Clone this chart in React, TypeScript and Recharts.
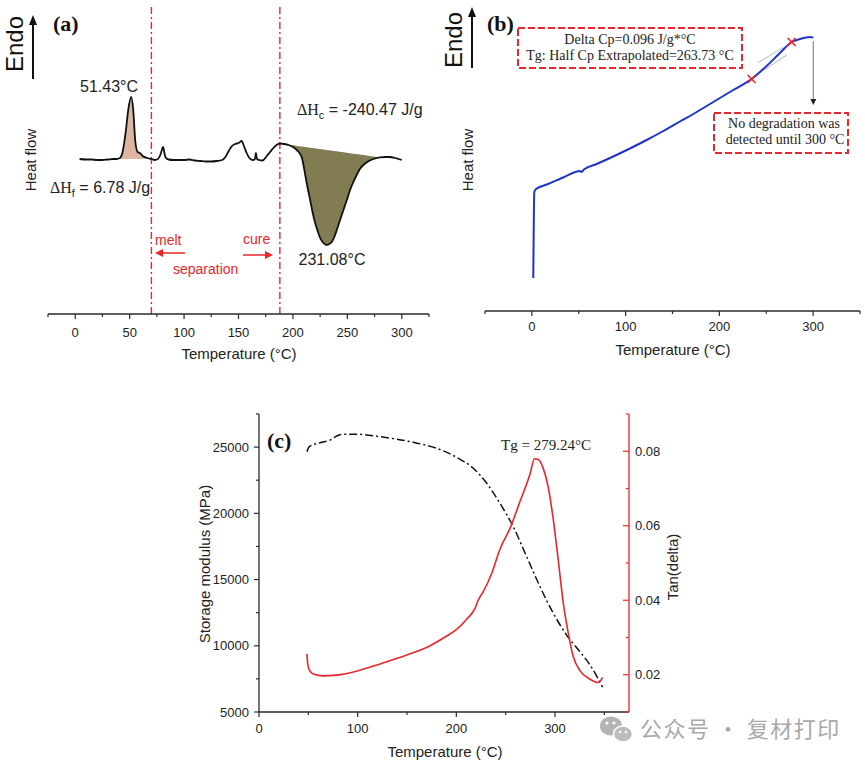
import React from 'react';
import {
  ComposedChart,
  LineChart,
  Line,
  Area,
  XAxis,
  YAxis,
  ReferenceLine,
  ReferenceDot,
} from 'recharts';

const SANS = '"Liberation Sans", Arial, sans-serif';
const SERIF = '"Liberation Serif", "Times New Roman", serif';
const RED = '#e8262b';
const FRAME = '#2a2a2a';

// (a) DSC heating scan: temperature (°C) and heat flow (arb. units, endo up)
const dscTemp = [
  4, 10, 15, 20, 25, 30, 35, 38, 41, 43.5, 46.6, 48.7, 51.43, 53.3, 55.1, 57.3, 59.5, 62, 66, 70,
  73, 76, 78.5, 80.7, 82.8, 85.8, 90, 95, 100, 105, 110, 115, 120, 125, 130, 135, 138, 141, 144, 147,
  150, 153, 155, 157.5, 160, 163, 165, 166, 167, 169, 172, 176, 179, 182, 185, 188, 192, 196, 200,
  204, 206, 208, 209.5, 211, 213, 215.8, 218, 220.4, 223, 225, 228, 231.08, 233.5, 235.7, 238, 240.3,
  243, 246.4, 249.5, 252.5, 255.5, 258.6, 261.5, 264.7, 269, 274, 280, 285, 289, 294, 297, 300,
];
const dscHeat = [
  0, -0.005, -0.005, -0.01, -0.01, -0.005, 0, 0, 0.01, 0.07, 0.29, 0.49, 0.62, 0.49, 0.19, 0.07, 0.06, 0.03, 0.01, 0,
  -0.01, 0, 0.05, 0.12, 0.02, -0.005, -0.01, -0.01, -0.01, -0.005, -0.015, -0.02, -0.025, -0.025, -0.02, -0.01, 0.02, 0.08, 0.13, 0.15,
  0.16, 0.18, 0.13, 0.06, 0.01, -0.01, -0.005, 0.06, 0, -0.01, -0.015, 0.03, 0.07, 0.11, 0.14, 0.155, 0.15, 0.14, 0.12,
  0.085, 0.06, 0.02, -0.05, -0.14, -0.26, -0.41, -0.53, -0.64, -0.73, -0.79, -0.84, -0.86, -0.85, -0.83, -0.78, -0.71,
  -0.62, -0.51, -0.41, -0.31, -0.23, -0.16, -0.1, -0.06, -0.025, 0, 0.017, 0.02, 0.02, 0.01, 0, -0.01,
];
const meltWindow = [38, 70];
const cureWindow = [188, 280];
const phaseBounds = [70, 188];
const dscTicks = [-25, 0, 25, 50, 75, 100, 125, 150, 175, 200, 225, 250, 275, 300, 325];

// (b) DSC glass transition scan
const stepTemp = [
  1.5, 2.6, 4.4, 15.8, 33.5, 51.3, 53, 55.5, 69.1, 86.8, 104.6, 122.4, 140.2, 158, 175.8, 193.5,
  214.8, 234.4, 250.4, 264.6, 277.1, 286, 296.6, 300.2,
];
const stepHeat = [
  0.33, 1.19, 1.22, 1.265, 1.335, 1.4, 1.39, 1.415, 1.47, 1.545, 1.625, 1.71, 1.8, 1.895, 1.99, 2.09,
  2.21, 2.32, 2.45, 2.58, 2.69, 2.72, 2.74, 2.735,
];
const onsetTemp = [234.4, 277.1];
const onsetHeat = [2.32, 2.69];
const tangentUpper = [{ x: 241.5, y: 2.483 }, { x: 268.2, y: 2.637 }];
const tangentLower = [{ x: 246.8, y: 2.403 }, { x: 271.8, y: 2.56 }];
const endPointer = [{ x: 300.2, y: 2.7 }, { x: 300.2, y: 2.06 }];
const stepTicks = [-50, 0, 50, 100, 150, 200, 250, 300, 350];

// (c) DMA: storage modulus and tan delta
const modTemp = [
  48.6, 51, 61.8, 73.7, 78.7, 85.5, 100.5, 122.6, 156.4, 180, 200.3, 217.2, 230.8, 244.2, 257.7,
  271.3, 284.8, 298.3, 311.8, 325.3, 335.5, 348.3,
];
const modValue = [
  24650, 25030, 25330, 25590, 25840, 25970, 25970, 25790, 25360, 24910, 24230, 23400, 22270, 20760, 18990,
  16730, 14460, 12450, 10810, 9550, 8550, 6870,
];
const tanTemp = [
  48.6, 49.3, 51, 55, 65.2, 78.7, 100.5, 122.6, 149.7, 173.4, 190.2, 200.3, 210.5, 218.9, 222.3, 227.3,
  235.8, 244.2, 254.4, 264.5, 274.7, 279.24, 283.1, 288.1, 293.2, 298.3, 303.3, 308.4, 313.5, 318.5,
  325.3, 335.5, 343.9, 348.3,
];
const tanValue = [
  0.0256, 0.0231, 0.0213, 0.0202, 0.0197, 0.0199, 0.0211, 0.0229, 0.0253, 0.0278, 0.0304, 0.0322, 0.0349, 0.0378, 0.0401, 0.0423,
  0.0472, 0.0537, 0.0593, 0.0665, 0.0739, 0.078, 0.0778, 0.0754, 0.0703, 0.0616, 0.0508, 0.0392, 0.0311, 0.0249,
  0.0211, 0.0188, 0.0179, 0.0193,
];
const dmaTicks = [0, 50, 100, 150, 200, 250, 300, 350];
const modTicks = [5000, 7500, 10000, 12500, 15000, 17500, 20000, 22500, 25000, 27500];
const tanTicks = [0.01, 0.02, 0.03, 0.04, 0.05, 0.06, 0.07, 0.08, 0.09];

// straight integration baseline between the two window ends of the DSC trace
const chord = (win: number[], t: number) => {
  const v0 = dscHeat[dscTemp.indexOf(win[0])];
  const v1 = dscHeat[dscTemp.indexOf(win[1])];
  return v0 + ((v1 - v0) * (t - win[0])) / (win[1] - win[0]);
};
const inside = (win: number[], t: number) => t >= win[0] && t <= win[1];

const dscRows = dscTemp.map((t, i) => ({
  t,
  hf: dscHeat[i],
  melt: inside(meltWindow, t) ? [chord(meltWindow, t), dscHeat[i]] : null,
  cure: inside(cureWindow, t) ? [dscHeat[i], chord(cureWindow, t)] : null,
}));
const stepRows = stepTemp.map((t, i) => ({ t, hf: stepHeat[i] }));
const modRows = modTemp.map((t, i) => ({ t, v: modValue[i] }));
const tanRows = tanTemp.map((t, i) => ({ t, v: tanValue[i] }));

type TickSpec = {
  side: 'bottom' | 'left' | 'right';
  isMajor: (v: number) => boolean;
  format?: (v: number) => string;
  major: number;
  minor: number;
  gap: number;
  fontSize: number;
  color: string;
};

function axisTick(spec: TickSpec) {
  return (props: any) => {
    const { x, y, payload } = props;
    const v = payload.value as number;
    const big = spec.isMajor(v);
    const len = big ? spec.major : spec.minor;
    const label = big ? (spec.format ? spec.format(v) : String(v)) : '';
    const txt = { fontSize: spec.fontSize, fontFamily: SANS, fill: '#222' };
    if (spec.side === 'bottom') {
      return (
        <g>
          <line x1={x} y1={y} x2={x} y2={y + len} stroke={spec.color} strokeWidth={1.2} />
          {label && (
            <text x={x} y={y + spec.gap} textAnchor="middle" dominantBaseline="central" {...txt}>
              {label}
            </text>
          )}
        </g>
      );
    }
    if (spec.side === 'left') {
      return (
        <g>
          <line x1={x - len} y1={y} x2={x} y2={y} stroke={spec.color} strokeWidth={1.2} />
          {label && (
            <text x={x - spec.gap} y={y} textAnchor="end" dominantBaseline="central" {...txt}>
              {label}
            </text>
          )}
        </g>
      );
    }
    // right axis: ticks point into the plot
    return (
      <g>
        <line x1={x - len} y1={y} x2={x} y2={y} stroke={spec.color} strokeWidth={1.2} />
        {label && (
          <text x={x + spec.gap} y={y} textAnchor="start" dominantBaseline="central" {...txt}>
            {label}
          </text>
        )}
      </g>
    );
  };
}

const dscTick = axisTick({ side: 'bottom', isMajor: (v) => v >= 0 && v <= 300 && v % 50 === 0, major: 5, minor: 3, gap: 18, fontSize: 13, color: FRAME });
const stepTick = axisTick({ side: 'bottom', isMajor: (v) => v >= 0 && v <= 300 && v % 100 === 0, major: 5, minor: 3, gap: 15, fontSize: 13, color: FRAME });
const dmaTick = axisTick({ side: 'bottom', isMajor: (v) => v % 100 === 0, major: 5, minor: 3, gap: 16, fontSize: 13, color: FRAME });
const modTick = axisTick({ side: 'left', isMajor: (v) => v % 5000 === 0, major: 5, minor: 3, gap: 10, fontSize: 13, color: FRAME });
const tanTick = axisTick({ side: 'right', isMajor: (v) => Math.round(v * 100) % 2 === 0 && v < 0.09 && v > 0.01, format: (v) => v.toFixed(2), major: 6, minor: 3, gap: 6, fontSize: 13, color: RED });

const XMark = (props: any) => {
  const { cx, cy } = props;
  const s = 4;
  return (
    <g stroke={RED} strokeWidth={1.6}>
      <line x1={cx - s} y1={cy - s} x2={cx + s} y2={cy + s} />
      <line x1={cx - s} y1={cy + s} x2={cx + s} y2={cy - s} />
    </g>
  );
};

const DownArrow = (props: any) => {
  const { x1, y1, x2, y2 } = props;
  return (
    <g>
      <line x1={x1} y1={y1} x2={x2} y2={y2 - 5} stroke="#8a8a8a" strokeWidth={1.2} />
      <polygon points={`${x2 - 3},${y2 - 6} ${x2 + 3},${y2 - 6} ${x2},${y2}`} fill="#222" />
    </g>
  );
};

function DscPanel() {
  return (
    <ComposedChart width={440} height={370} data={dscRows} margin={{ top: 5, right: 11, bottom: 16, left: 48 }}>
      <XAxis
        dataKey="t"
        type="number"
        domain={[-25, 325]}
        ticks={dscTicks}
        interval={0}
        tickSize={0}
        tickMargin={0}
        tickLine={false}
        tick={dscTick}
        height={40}
        allowDataOverflow
        axisLine={{ stroke: FRAME, strokeWidth: 1.3 }}
      />
      <XAxis xAxisId="top" orientation="top" type="number" domain={[-25, 325]} height={0} tick={false} tickLine={false} axisLine={{ stroke: FRAME, strokeWidth: 1.3 }} />
      <YAxis type="number" domain={[-1.55, 1.54]} width={0} tick={false} tickLine={false} allowDataOverflow axisLine={{ stroke: FRAME, strokeWidth: 1.3 }} />
      <YAxis yAxisId="r" orientation="right" type="number" domain={[0, 1]} width={0} tick={false} tickLine={false} axisLine={{ stroke: FRAME, strokeWidth: 1.3 }} />
      <Area dataKey="melt" type="monotone" stroke="none" fill="#dcb6a2" fillOpacity={1} isAnimationActive={false} />
      <Area dataKey="cure" type="monotone" stroke="none" fill="#817c52" fillOpacity={1} isAnimationActive={false} />
      {phaseBounds.map((x) => (
        <ReferenceLine key={x} x={x} stroke={RED} strokeWidth={1.4} strokeDasharray="7 3 2 3" />
      ))}
      <Line dataKey="hf" type="monotone" stroke="#111" strokeWidth={1.8} dot={false} isAnimationActive={false} />
    </ComposedChart>
  );
}

function StepPanel() {
  return (
    <LineChart width={435} height={370} data={stepRows} margin={{ top: 7, right: 5, bottom: 19, left: 55 }}>
      <XAxis
        dataKey="t"
        type="number"
        domain={[-50, 350]}
        ticks={stepTicks}
        interval={0}
        tickSize={0}
        tickMargin={0}
        tickLine={false}
        tick={stepTick}
        height={40}
        allowDataOverflow
        axisLine={{ stroke: FRAME, strokeWidth: 1.3 }}
      />
      <XAxis xAxisId="top" orientation="top" type="number" domain={[-50, 350]} height={0} tick={false} tickLine={false} axisLine={{ stroke: FRAME, strokeWidth: 1.3 }} />
      <YAxis type="number" domain={[0, 3.04]} width={0} tick={false} tickLine={false} allowDataOverflow axisLine={{ stroke: FRAME, strokeWidth: 1.3 }} />
      <YAxis yAxisId="r" orientation="right" type="number" domain={[0, 1]} width={0} tick={false} tickLine={false} axisLine={{ stroke: FRAME, strokeWidth: 1.3 }} />
      <ReferenceLine segment={tangentUpper} stroke="#a9b9dc" strokeWidth={1} />
      <ReferenceLine segment={tangentLower} stroke="#a9b9dc" strokeWidth={1} />
      <ReferenceLine segment={endPointer} shape={DownArrow} />
      <Line dataKey="hf" type="monotone" stroke="#1f33c6" strokeWidth={2} dot={false} isAnimationActive={false} />
      {onsetTemp.map((t, i) => (
        <ReferenceDot key={t} x={t} y={onsetHeat[i]} r={4} shape={XMark} />
      ))}
    </LineChart>
  );
}

function DmaPanel() {
  return (
    <ComposedChart width={540} height={361} margin={{ top: 14, right: 31, bottom: 19, left: 39 }}>
      <XAxis
        dataKey="t"
        type="number"
        domain={[0, 375]}
        ticks={dmaTicks}
        interval={0}
        tickSize={0}
        tickMargin={0}
        tickLine={false}
        tick={dmaTick}
        height={30}
        allowDataOverflow
        axisLine={{ stroke: FRAME, strokeWidth: 1.3 }}
      />
      <XAxis xAxisId="top" orientation="top" type="number" domain={[0, 375]} height={0} tick={false} tickLine={false} axisLine={{ stroke: FRAME, strokeWidth: 1.3 }} />
      <YAxis
        yAxisId="mod"
        type="number"
        domain={[5000, 27500]}
        ticks={modTicks}
        interval={0}
        tickSize={0}
        tickMargin={0}
        tickLine={false}
        tick={modTick}
        width={60}
        allowDataOverflow
        axisLine={{ stroke: FRAME, strokeWidth: 1.3 }}
      />
      <YAxis
        yAxisId="tan"
        orientation="right"
        type="number"
        domain={[0.01, 0.09]}
        ticks={tanTicks}
        interval={0}
        tickSize={0}
        tickMargin={0}
        tickLine={false}
        tick={tanTick}
        width={40}
        allowDataOverflow
        axisLine={{ stroke: RED, strokeWidth: 1.3 }}
      />
      <Line data={modRows} yAxisId="mod" dataKey="v" type="monotone" stroke="#111" strokeWidth={1.5} strokeDasharray="8 3 2 3" dot={false} isAnimationActive={false} />
      <Line data={tanRows} yAxisId="tan" dataKey="v" type="monotone" stroke={RED} strokeWidth={1.6} dot={false} isAnimationActive={false} />
    </ComposedChart>
  );
}

const Overlay = () => (
  <svg width={865} height={761} style={{ position: 'absolute', left: 0, top: 0, pointerEvents: 'none' }}>
    <defs>
      <marker id="redHead" markerWidth="8" markerHeight="8" refX="6" refY="4" orient="auto" markerUnits="userSpaceOnUse">
        <path d="M0,0 L8,4 L0,8 z" fill={RED} />
      </marker>
    </defs>
    {/* panel a */}
    <text x={53} y={31} fontFamily={SERIF} fontWeight="bold" fontSize={22} fill="#111">(a)</text>
    <text x={14} y={44} transform="rotate(-90 14 44)" textAnchor="middle" dominantBaseline="central" fontFamily={SANS} fontSize={24} fill="#111">Endo</text>
    <line x1={33} y1={79} x2={33} y2={24} stroke="#111" strokeWidth={2} />
    <polygon points="29,25 37,25 33,15" fill="#111" />
    <text x={30} y={160} transform="rotate(-90 30 160)" textAnchor="middle" dominantBaseline="central" fontFamily={SANS} fontSize={15} fill="#222">Heat flow</text>
    <text x={109} y={92} textAnchor="middle" fontFamily={SANS} fontSize={16} fill="#222">51.43°C</text>
    <text x={50} y={193} fontFamily={SANS} fontSize={16} fill="#222">
      <tspan fontFamily={SERIF}>ΔH</tspan>
      <tspan fontSize={11} dy={4}>f</tspan>
      <tspan dy={-4}> = 6.78 J/g</tspan>
    </text>
    <text x={297} y={115} fontFamily={SANS} fontSize={16} fill="#222">
      <tspan fontFamily={SERIF}>ΔH</tspan>
      <tspan fontSize={11} dy={4}>c</tspan>
      <tspan dy={-4}> = -240.47 J/g</tspan>
    </text>
    <text x={332} y={265} textAnchor="middle" fontFamily={SANS} fontSize={16} fill="#222">231.08°C</text>
    <text x={155} y={245} fontFamily={SANS} fontSize={14} fill={RED}>melt</text>
    <line x1={185} y1={253} x2={157} y2={253} stroke={RED} strokeWidth={1.5} markerEnd="url(#redHead)" />
    <text x={173} y={274} fontFamily={SANS} fontSize={14} fill={RED}>separation</text>
    <text x={243} y={244} fontFamily={SANS} fontSize={14} fill={RED}>cure</text>
    <line x1={243} y1={255} x2={271} y2={255} stroke={RED} strokeWidth={1.5} markerEnd="url(#redHead)" />
    <text x={239} y={353} textAnchor="middle" dominantBaseline="central" fontFamily={SANS} fontSize={15} fill="#222">Temperature (°C)</text>

    {/* panel b */}
    <text x={487} y={31} fontFamily={SERIF} fontWeight="bold" fontSize={22} fill="#111">(b)</text>
    <text x={453} y={40} transform="rotate(-90 453 40)" textAnchor="middle" dominantBaseline="central" fontFamily={SANS} fontSize={24} fill="#111">Endo</text>
    <line x1={472} y1={68} x2={472} y2={16} stroke="#111" strokeWidth={2} />
    <polygon points="468,17 476,17 472,7" fill="#111" />
    <text x={467} y={160} transform="rotate(-90 467 160)" textAnchor="middle" dominantBaseline="central" fontFamily={SANS} fontSize={15} fill="#222">Heat flow</text>
    <rect x={518} y={28} width={224} height={40} fill="none" stroke={RED} strokeWidth={2} strokeDasharray="7 3" />
    <text x={630} y={44} textAnchor="middle" fontFamily={SERIF} fontSize={14} fill="#222">Delta Cp=0.096 J/g*°C</text>
    <text x={630} y={60} textAnchor="middle" fontFamily={SERIF} fontSize={14} fill="#222">Tg: Half Cp Extrapolated=263.73 °C</text>
    <rect x={714} y={113} width={134} height={40} fill="none" stroke={RED} strokeWidth={2} strokeDasharray="7 3" />
    <text x={784} y={128} textAnchor="middle" fontFamily={SERIF} fontSize={14} fill="#222">No degradation was</text>
    <text x={785} y={144} textAnchor="middle" fontFamily={SERIF} fontSize={14} fill="#222">detected until 300 °C</text>
    <text x={673} y={349} textAnchor="middle" dominantBaseline="central" fontFamily={SANS} fontSize={15} fill="#222">Temperature (°C)</text>

    {/* panel c */}
    <text x={267} y={448} fontFamily={SERIF} fontWeight="bold" fontSize={22} fill="#111">(c)</text>
    <text x={546} y={450} textAnchor="middle" fontFamily={SERIF} fontSize={15} fill="#222">Tg = 279.24°C</text>
    <text x={204} y={564} transform="rotate(-90 204 564)" textAnchor="middle" dominantBaseline="central" fontFamily={SANS} fontSize={15} fill="#222">Storage modulus (MPa)</text>
    <text x={672} y={567} transform="rotate(-90 672 567)" textAnchor="middle" dominantBaseline="central" fontFamily={SANS} fontSize={15} fill="#222">Tan(delta)</text>
    <text x={445} y={751} textAnchor="middle" dominantBaseline="central" fontFamily={SANS} fontSize={15} fill="#222">Temperature (°C)</text>

    {/* account watermark */}
    <ellipse cx={611} cy={726} rx={11} ry={9.5} fill="#b4b4b4" />
    <circle cx={607} cy={723} r={1.6} fill="#fff" />
    <circle cx={614} cy={723} r={1.6} fill="#fff" />
    <ellipse cx={623} cy={734} rx={9.5} ry={8} fill="#bcbcbc" stroke="#fff" strokeWidth={1.5} />
    <circle cx={620} cy={732} r={1.3} fill="#fff" />
    <circle cx={626} cy={732} r={1.3} fill="#fff" />
    <text x={640} y={727} dominantBaseline="central" fontFamily='"Noto Sans CJK SC", sans-serif' fontSize={22} letterSpacing={1.5} fill="#a8a8a8">公众号 · 复材打印</text>
  </svg>
);

export default function App() {
  return (
    <div style={{ position: 'absolute', left: 0, top: 0, width: 865, height: 761, background: '#fff', overflow: 'hidden' }}>
      <div style={{ position: 'absolute', left: 0, top: 0 }}>
        <DscPanel />
      </div>
      <div style={{ position: 'absolute', left: 430, top: 0 }}>
        <StepPanel />
      </div>
      <div style={{ position: 'absolute', left: 160, top: 400 }}>
        <DmaPanel />
      </div>
      <Overlay />
    </div>
  );
}
